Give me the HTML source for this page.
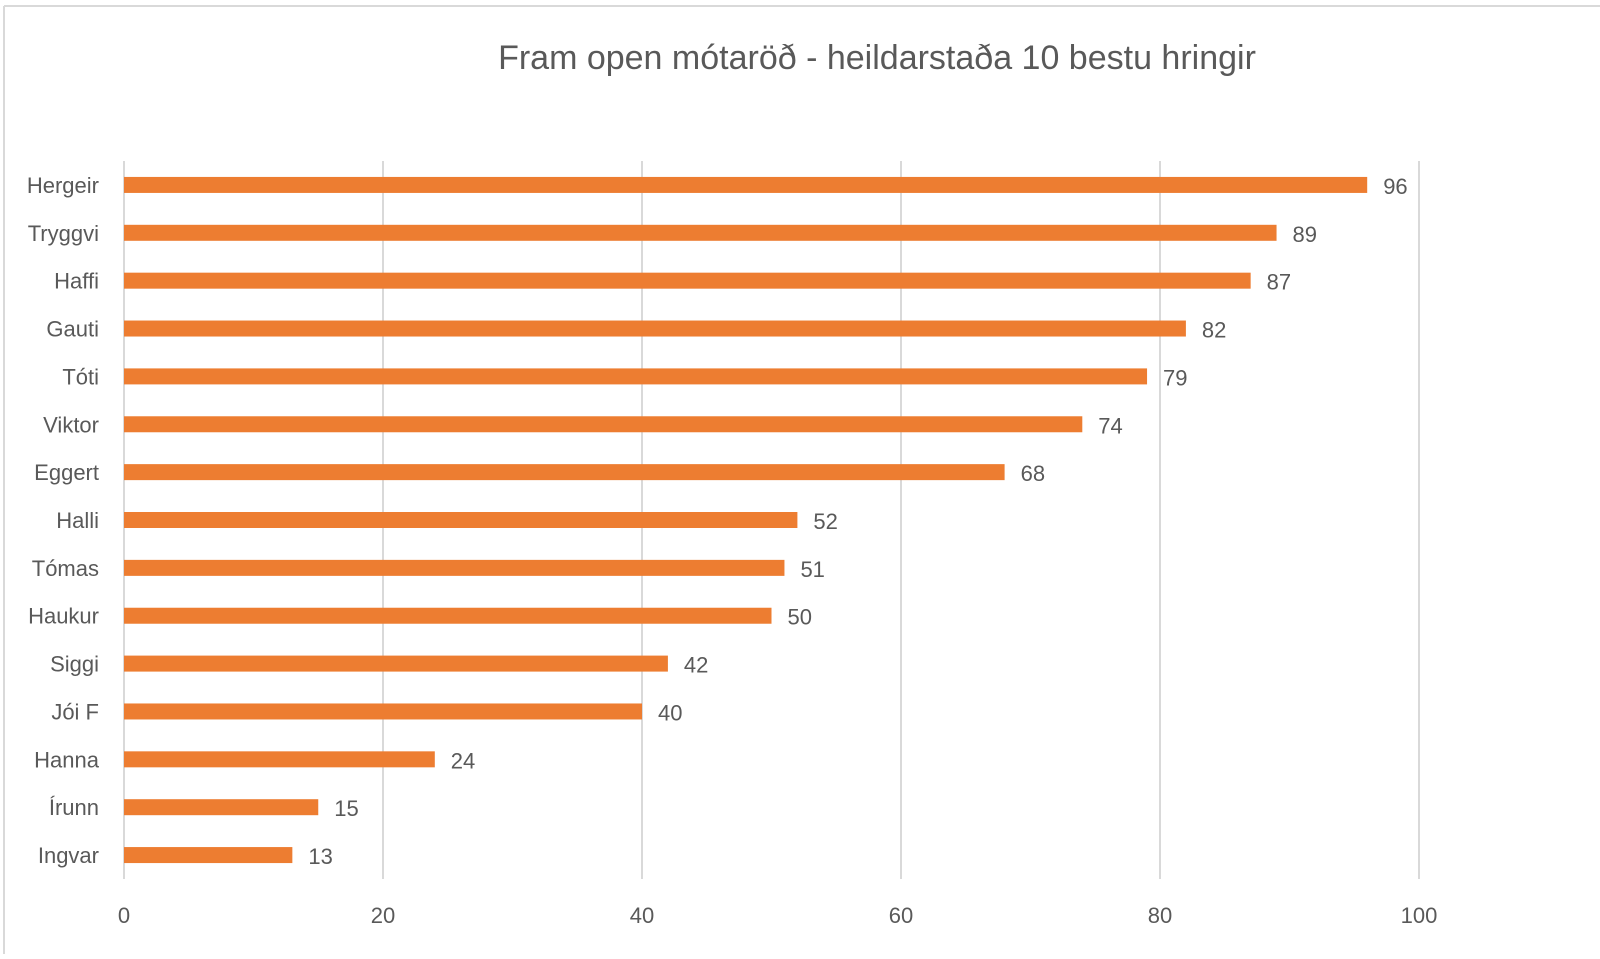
<!DOCTYPE html>
<html><head><meta charset="utf-8"><style>
html,body{margin:0;padding:0;background:#fff;}
svg text{font-family:"Liberation Sans",sans-serif;fill:#595959;}
</style></head><body>
<svg id="chart" width="1600" height="954" xmlns="http://www.w3.org/2000/svg">
<rect x="0" y="0" width="1600" height="954" fill="#fff"/>
<line x1="4" y1="6" x2="1600" y2="6" stroke="#d9d9d9" stroke-width="2"/>
<line x1="4" y1="6" x2="4" y2="954" stroke="#d9d9d9" stroke-width="2"/>
<text x="877" y="69" font-size="34" text-anchor="middle">Fram open mótaröð - heildarstaða 10 bestu hringir</text>
<g id="grid"></g><g id="bars"></g><g id="labels"></g>
</svg>
<script>
const categories = ["Hergeir","Tryggvi","Haffi","Gauti","Tóti","Viktor","Eggert","Halli","Tómas","Haukur","Siggi","Jói F","Hanna","Írunn","Ingvar"];
const values = [96,89,87,82,79,74,68,52,51,50,42,40,24,15,13];
const ticks = [0,20,40,60,80,100];
const NS="http://www.w3.org/2000/svg";
const x0=124, x1=1419, yTop=161, yBot=879;
const xs=v=>x0+(v/100)*(x1-x0);
const band=(yBot-yTop)/categories.length;
const yc=i=>yTop+band*(i+0.5);
const grid=document.getElementById('grid'), bars=document.getElementById('bars'), labels=document.getElementById('labels');
function mk(tag,attrs,parent,txt){const e=document.createElementNS(NS,tag);for(const k in attrs)e.setAttribute(k,attrs[k]);if(txt!==undefined)e.textContent=txt;parent.appendChild(e);return e;}
ticks.forEach(t=>{
  const l=mk('line',{x1:xs(t),x2:xs(t),y1:yTop,y2:yBot,stroke:'#d9d9d9','stroke-width':2},grid);
  
  
  const tx=mk('text',{x:xs(t),y:923,'font-size':22,'text-anchor':'middle'},labels,String(t));
  
  
});
categories.forEach((c,i)=>{
  const y=yc(i);
  const r=mk('rect',{x:x0,y:y-8,width:xs(values[i])-x0,height:16,fill:'#ed7d31'},bars);
  
  
  const cl=mk('text',{x:99,y:y+8,'font-size':22,'text-anchor':'end'},labels,c);
  
  
  const vl=mk('text',{x:xs(values[i])+16,y:y+9,'font-size':22},labels,String(values[i]));
  
  
});
</script>
</body></html>
